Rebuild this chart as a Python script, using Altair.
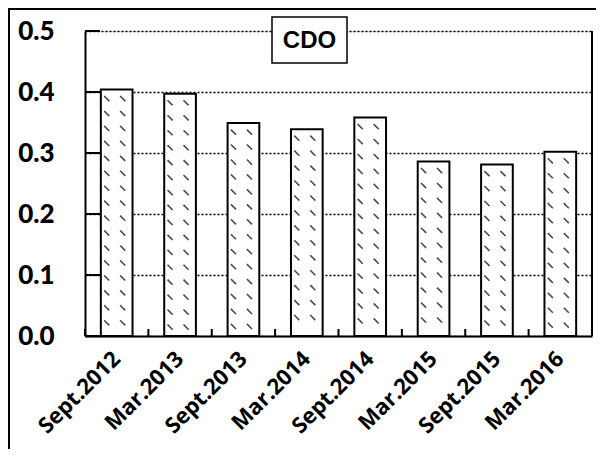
import altair as alt
import pandas as pd

categories = ["Sept.2012", "Mar.2013", "Sept.2013", "Mar.2014",
              "Sept.2014", "Mar.2015", "Sept.2015", "Mar.2016"]
values = [0.404, 0.397, 0.349, 0.339, 0.358, 0.286, 0.281, 0.302]
y_ticks = [0.0, 0.1, 0.2, 0.3, 0.4, 0.5]
title_text = "CDO"

W, H = 507, 305

df = pd.DataFrame({"cat": categories, "value": values})
tick_df = pd.DataFrame({"t": y_ticks})
title_df = pd.DataFrame({"label": [title_text]})

xscale = alt.Scale(paddingInner=0, paddingOuter=0)
x_enc = alt.X("cat:N", sort=categories, scale=xscale,
              axis=alt.Axis(title=None, labelAngle=-45, labelAlign="right",
                            labelBaseline="middle", labelPadding=19, ticks=False,
                            labelFontSize=22, labelFont="Open Sans", labelFontWeight="bold",
                            labelColor="black", domainColor="black", domainWidth=2))
y_scale = alt.Scale(domain=[0, 0.5], nice=False)
y_enc = alt.Y("value:Q", scale=y_scale,
              axis=alt.Axis(title=None, values=y_ticks, format=".1f", ticks=False,
                            labelPadding=31, labelFontSize=26, labelFont="Lato",
                            labelFontWeight=900, labelColor="black",
                            domainColor="black", domainWidth=2,
                            grid=True, gridColor="black", gridDash=[2, 2], gridWidth=1.5))

bars = alt.Chart(df).mark_bar(width=alt.RelativeBandSize(0.5), fill="white",
                              stroke="black", strokeWidth=2).encode(x=x_enc, y=y_enc)

pattern_base = alt.Chart(df).transform_calculate(
    seq="sequence(datum.value - 0.0148, 0.006, -0.0245)"
).transform_flatten(["seq"])

pat1 = pattern_base.mark_point(shape="M -1 -1 L 1 1", size=26, stroke="black",
                               strokeWidth=1.6, filled=False, xOffset=-10).encode(
    x=alt.X("cat:N", sort=categories),
    y=alt.Y("seq:Q", scale=y_scale))
pat2 = pattern_base.mark_point(shape="M -1 -1 L 1 1", size=26, stroke="black",
                               strokeWidth=1.6, filled=False, xOffset=6).encode(
    x=alt.X("cat:N", sort=categories),
    y=alt.Y("seq:Q", scale=y_scale))

xticks = alt.Chart(df).mark_rule(stroke="black", strokeWidth=2).encode(
    x=alt.X("cat:N", sort=categories, bandPosition=0),
    y=alt.value(H - 7), y2=alt.value(H))

yticks = alt.Chart(tick_df).mark_rule(stroke="black", strokeWidth=2).encode(
    y=alt.Y("t:Q", scale=y_scale), x=alt.value(0), x2=alt.value(15))

right_line = alt.Chart(tick_df).mark_rule(stroke="black", strokeWidth=2).encode(
    x=alt.value(W), y=alt.value(0), y2=alt.value(H))

title_box = alt.Chart(title_df).mark_rect(fill="white", stroke="black",
                                          strokeWidth=1.5).encode(
    x=alt.value(187), x2=alt.value(262), y=alt.value(-14), y2=alt.value(32))
title_txt = alt.Chart(title_df).mark_text(font="Liberation Sans", fontSize=24,
                                          fontWeight="bold", color="black",
                                          align="center", baseline="middle").encode(
    x=alt.value(224.5), y=alt.value(10), text="label:N")

frame = alt.Chart(title_df).mark_rect(fill=None, stroke="black", strokeWidth=2).encode(
    x=alt.value(-76), x2=alt.value(W + 40), y=alt.value(-22), y2=alt.value(H + 200))

chart = alt.layer(frame, bars, pat1, pat2, xticks, yticks, right_line,
                  title_box, title_txt).properties(
    width=W, height=H,
    autosize=alt.AutoSizeParams(type="none"),
    padding={"left": 77, "top": 23, "right": 4, "bottom": 113},
).configure_view(stroke=None).configure(background="white")

chart.save("out.html", embed_options={"renderer": "svg", "actions": False})
